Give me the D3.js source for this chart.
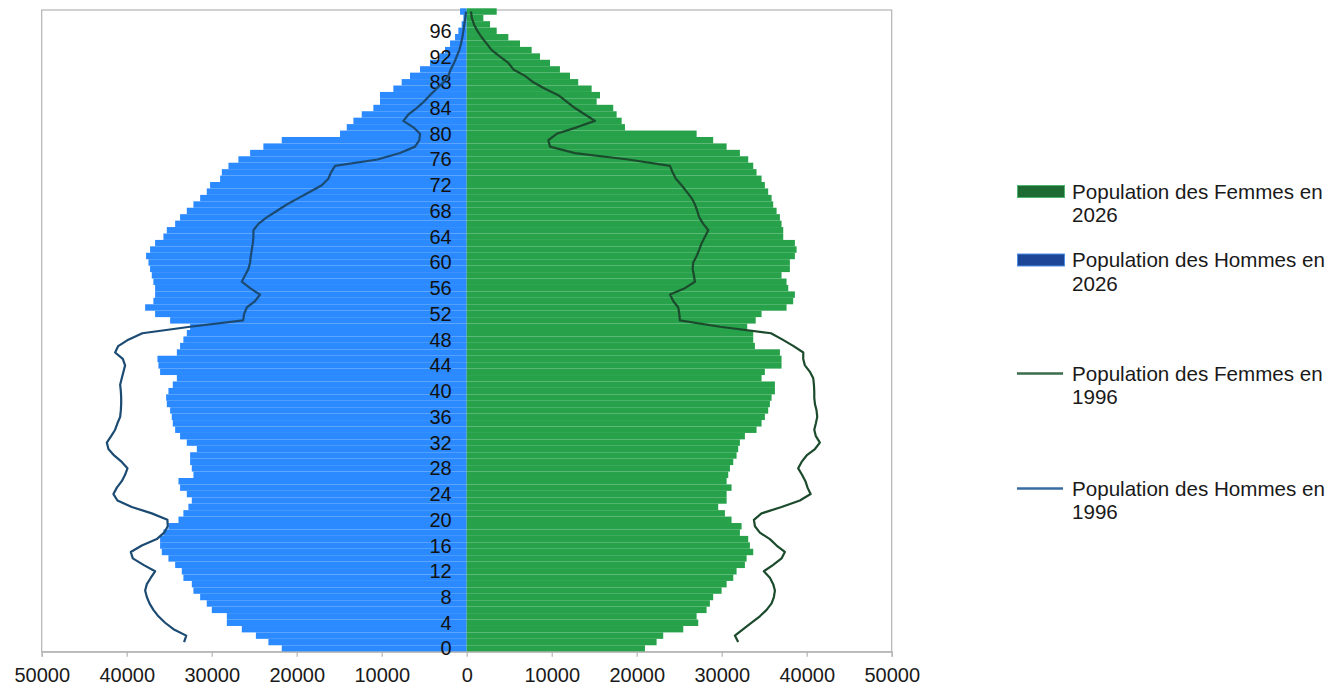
<!DOCTYPE html>
<html>
<head>
<meta charset="utf-8">
<script src="https://cdn.jsdelivr.net/npm/d3@7"></script>
<style>
  body { margin: 0; background: #fff; }
  svg { display: block; font-family: "Liberation Sans", Arial, sans-serif; }
</style>
</head>
<body>
<svg id="chart" width="1330" height="686"></svg>
<script>
// ages 0..99, one value per age
const ages = d3.range(0, 100);

const hommes2026 = [
  21760, 23330, 24800, 26460, 28220, 28220, 29990, 30580, 31360, 32150,
  32340, 33330, 33520, 34300, 35090, 35870, 36070, 36070, 35680, 35090,
  33910, 33330, 32740, 32340, 32930, 33720, 33910, 32150, 32340, 32540,
  32540, 31750, 32930, 33720, 34300, 34580, 34700, 34890, 35280, 35360,
  35090, 34580, 34100, 36070, 36270, 36380, 34100, 33720, 33330, 32930,
  32540, 34890, 36660, 37830, 36860, 36660, 36660, 36860, 37050, 37250,
  37440, 37720, 37250, 36660, 35680, 35280, 34300, 33720, 32930, 32150,
  31360, 30580, 30190, 29010, 28810, 28030, 26860, 25480, 23920, 21760,
  14900, 14110, 13330, 12350, 10980, 10200, 10200, 8630, 7650, 6670,
  5490, 4320, 3140, 2550, 1960, 1370, 980, 590, 390, 780
];

const femmes2026 = [
  20970, 22340, 23120, 25480, 27240, 27050, 28220, 28610, 29000, 29990,
  30580, 31360, 31750, 32730, 32930, 33710, 33320, 33120, 32140, 32340,
  31160, 30380, 29590, 30580, 30580, 31160, 30580, 30770, 30970, 31360,
  31750, 31940, 32140, 32730, 34100, 34690, 35080, 35470, 35670, 35870,
  36260, 36260, 34690, 35080, 37040, 37040, 36850, 33910, 33710, 33710,
  33000, 34000, 34690, 37630, 38410, 38610, 37830, 37630, 37040, 38020,
  38020, 38610, 38810, 38610, 37240, 37240, 37040, 36850, 36460, 36060,
  35870, 35470, 35080, 34690, 34100, 33710, 33120, 32140, 30580, 29000,
  27050, 18620, 18230, 17640, 17240, 15290, 15680, 14700, 13120, 12150,
  10970, 9800, 8620, 7640, 6270, 4900, 3530, 2740, 1960, 3530
];

const hommes1996 = [
  null, 33250, 32990, 34500, 35480, 36270, 36860, 37320, 37630, 37830,
  37630, 37160, 36660, 38030, 39280, 39520, 38220, 36460, 35600, 35170,
  35210, 37050, 39400, 41090, 41560, 41160, 40580, 40190, 39910, 40580,
  41480, 42150, 42340, 41830, 41360, 41090, 40770, 40690, 40650, 40650,
  40690, 40770, 40580, 40380, 40190, 40460, 41360, 41000, 39810, 38160,
  32540, 26300, 26190, 25870, 24900, 24310, 25480, 26460, 26070, 25680,
  25480, 25400, 25280, 25160, 25090, 25090, 24510, 23530, 22350, 21170,
  19800, 18430, 17050, 16280, 15960, 15490, 10500, 7840, 6080, 5570,
  5490, 6270, 7450, 6860, 5880, 5020, 4320, 3530, 2750, 2160,
  1880, 1490, 1180, 870, 670, 510, 390, 280, 160, 80
];

const femmes1996 = [
  null, 31940, 31550, 32530, 33520, 34490, 35280, 35870, 36140, 36260,
  36060, 35670, 34960, 36060, 37040, 37430, 36460, 35670, 34490, 33910,
  33790, 34690, 37040, 39200, 40460, 40100, 39850, 39450, 39000, 39400,
  39990, 40970, 41550, 41080, 40890, 41080, 41240, 41160, 40970, 40890,
  40890, 40850, 40770, 40380, 39790, 39590, 39600, 38460, 37160, 35800,
  29800, 25080, 25010, 24890, 24300, 23920, 25670, 26850, 26730, 26580,
  26650, 27050, 27360, 27640, 28030, 28420, 27830, 27360, 27120, 26850,
  26460, 25870, 25280, 24610, 24220, 23920, 19000, 12740, 9800, 9610,
  10590, 12940, 15090, 13920, 12740, 11760, 10780, 9210, 7840, 6860,
  5490, 4900, 3920, 2940, 2350, 1760, 1250, 860, 600, 500
];

const ageTicks = d3.range(0, 100, 4);
const xTicks = [-50000, -40000, -30000, -20000, -10000, 0, 10000, 20000, 30000, 40000, 50000];

const legendItems = [
  { lines: ['Population des Femmes en', '2026'], kind: 'bar', fill: '#1e6b34', stroke: '#4fb56c' },
  { lines: ['Population des Hommes en', '2026'], kind: 'bar', fill: '#1b4597', stroke: '#4d90e6' },
  { lines: ['Population des Femmes en', '1996'], kind: 'line', stroke: '#3a6c4b' },
  { lines: ['Population des Hommes en', '1996'], kind: 'line', stroke: '#386b9f' }
];
const legendY = [191.5, 260, 373.5, 488.5];

const colBlue = '#2b8aff';
const colGreen = '#27a24b';
const colLineH = '#1b4a72';
const colLineF = '#1b4b2c';

const svg = d3.select('#chart');
const plot = { left: 41.7, right: 891.7, top: 10, bottom: 651.7 };

const x = d3.scaleLinear().domain([-50000, 50000]).range([plot.left, plot.right]);
const y = d3.scaleLinear().domain([-0.5, 99.5]).range([plot.bottom, 8.3]);
const band = Math.abs(y(1) - y(0));

// plot frame
svg.append('rect')
  .attr('x', plot.left).attr('y', plot.top)
  .attr('width', plot.right - plot.left).attr('height', plot.bottom - plot.top)
  .attr('fill', 'none').attr('stroke', '#b3b3b3').attr('stroke-width', 1.2);

// bars 2026
svg.append('g').selectAll('rect')
  .data(ages)
  .join('rect')
  .attr('x', a => x(-hommes2026[a]))
  .attr('y', a => y(a + 0.5))
  .attr('width', a => x(0) - x(-hommes2026[a]))
  .attr('height', band)
  .attr('fill', colBlue);

svg.append('g').selectAll('rect')
  .data(ages)
  .join('rect')
  .attr('x', x(0))
  .attr('y', a => y(a + 0.5))
  .attr('width', a => x(femmes2026[a]) - x(0))
  .attr('height', band)
  .attr('fill', colGreen);

// x axis
const xAxis = svg.append('g')
  .attr('transform', `translate(0,${plot.bottom})`)
  .call(d3.axisBottom(x).tickValues(xTicks).tickFormat(d => Math.abs(d)).tickSize(5).tickPadding(11));
xAxis.select('.domain').attr('stroke', '#b3b3b3').attr('stroke-width', 1.2);
xAxis.selectAll('.tick line').attr('stroke', '#b3b3b3').attr('stroke-width', 1.2);
xAxis.selectAll('.tick text')
  .attr('font-size', 20).attr('fill', '#1a1a1a')
  .attr('font-family', '"Liberation Sans", Arial, sans-serif');

// age labels along the zero axis
svg.append('g').selectAll('text')
  .data(ageTicks)
  .join('text')
  .attr('x', x(0) - 15)
  .attr('y', a => y(a))
  .attr('dy', '0.35em')
  .attr('text-anchor', 'end')
  .attr('font-size', 20)
  .attr('fill', '#111')
  .text(a => a);

// lines 1996
const lineH = d3.line()
  .defined(a => hommes1996[a] != null)
  .x(a => x(-hommes1996[a]))
  .y(a => y(a));
const lineF = d3.line()
  .defined(a => femmes1996[a] != null)
  .x(a => x(femmes1996[a]))
  .y(a => y(a));

svg.append('path').datum(ages)
  .attr('d', lineF).attr('fill', 'none')
  .attr('stroke', colLineF).attr('stroke-width', 2.2).attr('stroke-linejoin', 'round');
svg.append('path').datum(ages)
  .attr('d', lineH).attr('fill', 'none')
  .attr('stroke', colLineH).attr('stroke-width', 2.2).attr('stroke-linejoin', 'round');

// legend
const leg = svg.append('g');
legendItems.forEach((it, i) => {
  const cy = legendY[i];
  if (it.kind === 'bar') {
    leg.append('rect')
      .attr('x', 1017.5).attr('y', cy - 6).attr('width', 47).attr('height', 12)
      .attr('fill', it.fill).attr('stroke', it.stroke).attr('stroke-width', 1);
  } else {
    leg.append('line')
      .attr('x1', 1017).attr('x2', 1063).attr('y1', cy).attr('y2', cy)
      .attr('stroke', it.stroke).attr('stroke-width', 2.5);
  }
  it.lines.forEach((t, j) => {
    leg.append('text')
      .attr('x', 1072).attr('y', cy + j * 23.4)
      .attr('dy', '0.35em')
      .attr('font-size', 20.6)
      .attr('fill', '#1a1a1a')
      .text(t);
  });
});
</script>
</body>
</html>
